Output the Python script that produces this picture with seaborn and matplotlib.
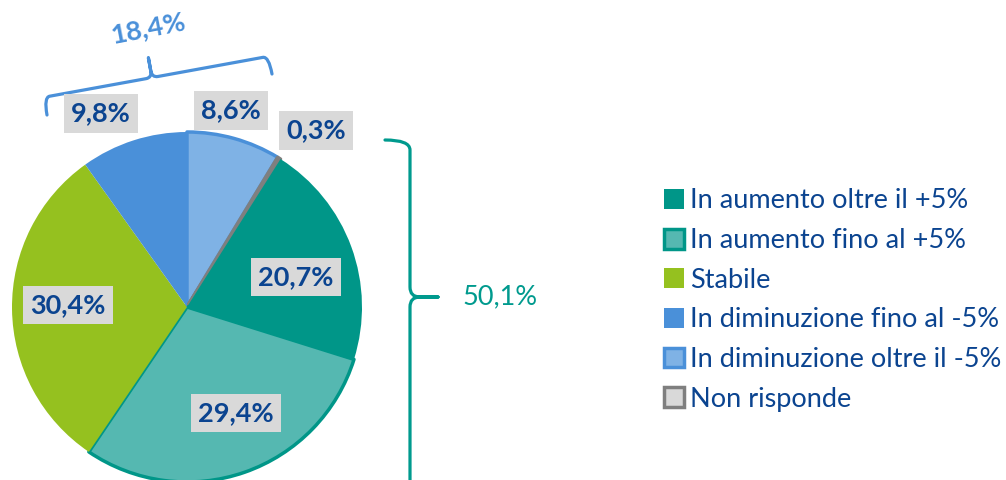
import numpy as np
import matplotlib
matplotlib.use("Agg")
import matplotlib.pyplot as plt
from matplotlib.path import Path
from matplotlib.patches import PathPatch
import seaborn as sns

# dati
categorie = ["In diminuzione oltre il -5%", "Non risponde", "In aumento oltre il +5%",
             "In aumento fino al +5%", "Stabile", "In diminuzione fino al -5%"]
valori = [8.6, 0.3, 20.7, 29.4, 30.4, 9.8]
etichette = ["8,6%", "0,3%", "20,7%", "29,4%", "30,4%", "9,8%"]
ordine_legenda = ["In aumento oltre il +5%", "In aumento fino al +5%", "Stabile",
                  "In diminuzione fino al -5%", "In diminuzione oltre il -5%", "Non risponde"]
totale_aumento = "50,1%"
totale_diminuzione = "18,4%"

# colori
riempimento = ["#7FB2E5", "#D9D9D9", "#009688", "#55B8B1", "#95C11F", "#4A90D9"]
bordo = ["#4A90D9", "#7F7F7F", "#009688", "#009688", "#95C11F", "#4A90D9"]
blu_testo = "#0B4490"

sns.set_theme(style="white")
plt.rcParams["font.family"] = ["Lato", "DejaVu Sans"]

W, H = 1006, 480
fig = plt.figure(figsize=(W / 100, H / 100), dpi=100)
ax = fig.add_axes([0, 0, 1, 1])

def py(y):
    # coordinate pixel (y dall'alto) -> coordinate dati
    return H - y

cx, cy, R = 187, py(307), 175
wedges, _ = ax.pie(valori, colors=riempimento, startangle=90, counterclock=False,
                   center=(cx, cy), radius=R, frame=True,
                   wedgeprops=dict(linewidth=0))
for w, ec, fc in zip(wedges, bordo, riempimento):
    w.set_edgecolor(ec)
    w.set_linewidth(2.5 if ec != fc else 0)
    w.set_joinstyle("round")

# etichette percentuali
distanze = [1.15, 1.25, 0.645, 0.667, 0.68, 1.21]
spostamenti = [3, -4.5, -4.7, 5.6, -1.7, 6.2]
for w, lab, d, s in zip(wedges, etichette, distanze, spostamenti):
    ang = np.deg2rad((w.theta1 + w.theta2) / 2 + s)
    ax.text(cx + d * R * np.cos(ang), cy + d * R * np.sin(ang), lab,
            ha="center", va="center", fontsize=19.5, fontweight="bold", color=blu_testo,
            bbox=dict(boxstyle="square,pad=0.27", facecolor="#D9D9D9", edgecolor="none"),
            zorder=5)

# parentesi graffe
def graffa(p0, p1, lato, d, t, r, u_tip, colore):
    p0 = np.array(p0, float)
    p1 = np.array(p1, float)
    L = np.linalg.norm(p1 - p0)
    eu = (p1 - p0) / L
    ev = np.array([-eu[1], eu[0]]) * lato
    loc = [(0, 0), (0, d), (r, d), (u_tip - r, d), (u_tip, d), (u_tip, d + t * 0.35),
           (u_tip, d + t), (u_tip, d + t * 0.35), (u_tip, d), (u_tip + r, d),
           (L - r, d), (L, d), (L, 0)]
    codes = [Path.MOVETO, Path.CURVE3, Path.CURVE3, Path.LINETO, Path.CURVE3, Path.CURVE3,
             Path.LINETO, Path.LINETO, Path.CURVE3, Path.CURVE3,
             Path.LINETO, Path.CURVE3, Path.CURVE3]
    pts = [p0 + u * eu + v * ev for u, v in loc]
    ax.add_patch(PathPatch(Path(pts, codes), facecolor="none", edgecolor=colore,
                           linewidth=2.3, capstyle="round", joinstyle="round"))

teal = "#009A8E"
azzurro = "#4A90D9"
graffa((385, py(140)), (385, py(492)), 1, 25, 28, 10, 157, teal)
ax.text(462, py(297), totale_aumento, ha="left", va="center", fontsize=19.5, color=teal)

graffa((47, py(115)), (272, py(74)), 1, 18, 20, 6, 110, azzurro)
ax.text(148, py(28), totale_diminuzione, ha="center", va="center", fontsize=19.5,
        fontweight="bold", color=azzurro, rotation=11)

# legenda
mappa = dict(zip(categorie, wedges))
leg = ax.legend([mappa[c] for c in ordine_legenda], ordine_legenda,
                loc="center left", bbox_to_anchor=(664 / W, 1 - 300 / H),
                frameon=False, fontsize=19.5, handlelength=0.75, handleheight=0.75,
                handletextpad=0.2, labelspacing=0.54, borderpad=0, borderaxespad=0)
for t in leg.get_texts():
    t.set_color(blu_testo)

ax.set_xlim(0, W)
ax.set_ylim(0, H)
ax.set_aspect("equal")
ax.axis("off")

fig.savefig("out.png", dpi=100)
